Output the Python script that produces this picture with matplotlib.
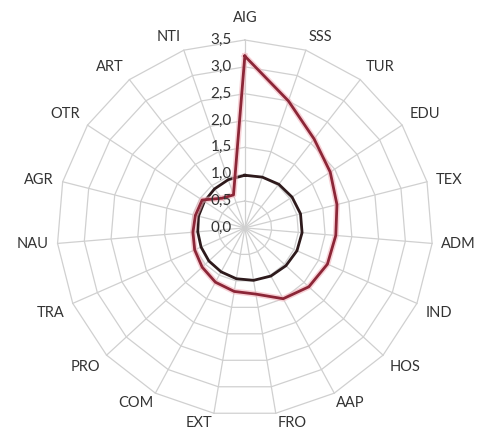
import numpy as np
import matplotlib
matplotlib.use("Agg")
import matplotlib.pyplot as plt

plt.rcParams['font.family'] = ['Lato', 'DejaVu Sans']

categories = ["AIG", "SSS", "TUR", "EDU", "TEX", "ADM", "IND", "HOS", "AAP", "FRO",
              "EXT", "COM", "PRO", "TRA", "NAU", "AGR", "OTR", "ART", "NTI"]
red_values = [3.2, 2.5, 2.1, 1.9, 1.77, 1.7, 1.68, 1.62, 1.5, 1.25,
              1.2, 1.15, 1.08, 1.02, 0.97, 0.95, 0.95, 0.7, 0.65]
black_values = [0.98, 1.0, 1.03, 1.05, 1.07, 1.07, 1.06, 1.04, 1.02, 0.99,
                0.96, 0.93, 0.91, 0.89, 0.88, 0.89, 0.90, 0.92, 0.95]
ring_levels = [0.0, 0.5, 1.0, 1.5, 2.0, 2.5, 3.0, 3.5]
ring_labels = ["0,0", "0,5", "1,0", "1,5", "2,0", "2,5", "3,0", "3,5"]

n = len(categories)
angles = np.linspace(0, 2 * np.pi, n, endpoint=False)
closed = np.concatenate([angles, angles[:1]])

fig = plt.figure(figsize=(4.81, 4.30), dpi=100)
ax = fig.add_axes([0.118, 0.033, 0.782, 0.874], projection='polar')
ax.set_theta_zero_location('N')
ax.set_theta_direction(-1)
ax.set_ylim(0, 3.5)
ax.set_axis_off()

grid_c = '#d0d0d0'
for lvl in ring_levels[1:]:
    ax.plot(closed, [lvl] * (n + 1), color=grid_c, lw=0.9, zorder=1, clip_on=False)
for a in angles:
    ax.plot([a, a], [0, 3.5], color=grid_c, lw=0.9, zorder=1, clip_on=False)

def close(v):
    return list(v) + [v[0]]

ax.plot(closed, close(black_values), color='#2e1a1c', lw=2.0, zorder=3, clip_on=False)
ax.plot(closed, close(red_values), color='#f2b3bb', lw=4.2, alpha=0.6, zorder=4, clip_on=False)
ax.plot(closed, close(red_values), color='#8c2637', lw=2.0, zorder=5, clip_on=False)

txt_c = '#333333'
for lvl, lab in zip(ring_levels, ring_labels):
    ax.annotate(lab, xy=(0, lvl), xytext=(-13, 0), textcoords='offset pixels',
                ha='right', va='center', fontsize=11, color=txt_c, zorder=6)

for a, cat in zip(angles, categories):
    s, c = np.sin(a), np.cos(a)
    ha = 'left' if s > 0.05 else ('right' if s < -0.05 else 'center')
    va = 'bottom' if c > 0.3 else ('top' if c < -0.3 else 'center')
    if abs(s) < 0.05:
        pad_x, pad_y = 0, 15
    elif c < -0.8:
        pad_x, pad_y = 2 * np.sign(s), -3
    else:
        pad_x, pad_y = 9 * s, 7 * c
    ax.annotate(cat, xy=(a, 3.5), xytext=(pad_x, pad_y),
                textcoords='offset pixels', ha=ha, va=va, fontsize=10.5,
                color=txt_c, annotation_clip=False)

fig.savefig('out.png', dpi=100)
